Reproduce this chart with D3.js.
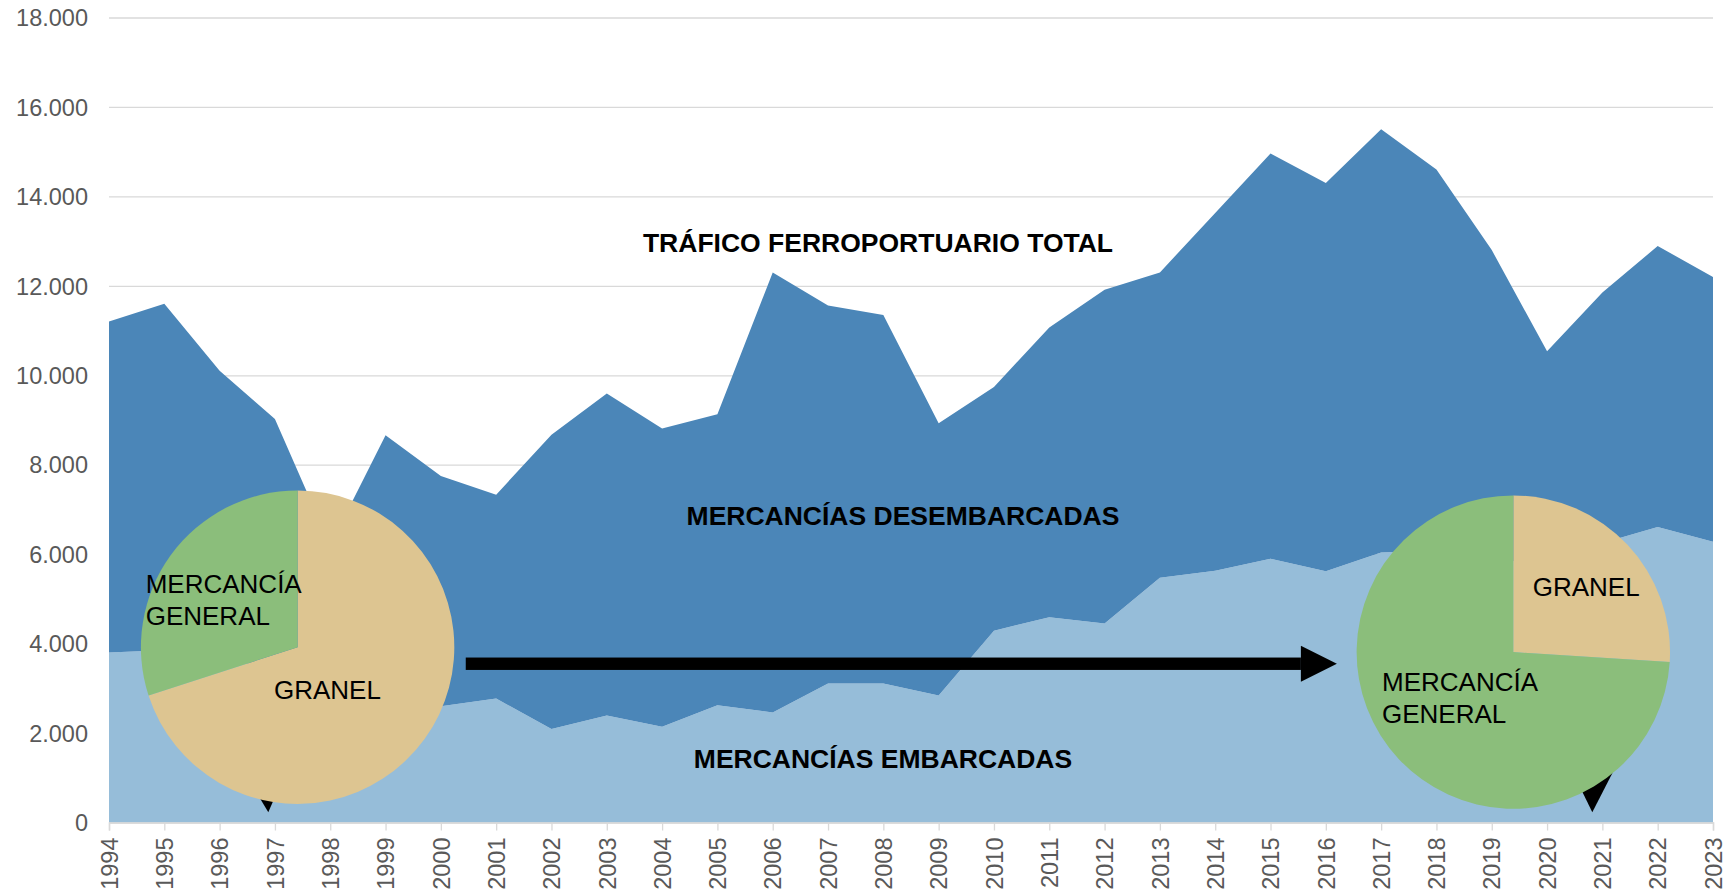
<!DOCTYPE html>
<html>
<head>
<meta charset="utf-8">
<script src="https://cdn.jsdelivr.net/npm/d3@7"></script>
<style>
  body { margin: 0; background: #fff; }
  svg { display: block; font-family: "Liberation Sans", Arial, sans-serif; }
</style>
</head>
<body>
<div id="chart"></div>
<script>
// Data (thousands of tonnes)
const years = d3.range(1994, 2024);
const embarcadas = [3800, 3850, 3700, 3400, 3100, 2800, 2600, 2770, 2090, 2390,
    2140, 2620, 2460, 3110, 3110, 2840, 4290, 4590, 4450, 5470,
    5630, 5900, 5620, 6040, 6080, 6000, 5600, 6250, 6610, 6280];
const desembarcadas = [7400, 7750, 6400, 5620, 3100, 5860, 5150, 4560, 6580, 7200,
    6670, 6510, 9840, 8450, 8240, 6090, 5450, 6480, 7460, 6830,
    8000, 9060, 8680, 9460, 8520, 6800, 4940, 5600, 6280, 5920];
const yTicks = [0, 2000, 4000, 6000, 8000, 10000, 12000, 14000, 16000, 18000];

// Pie insets: share of bulk vs general cargo, first and last year
const pieCategories = ["GRANEL", "MERCANCÍA GENERAL"];
const pieFirst = [70, 30];
const pieLast = [26, 74];

/* Dimensions */
const width = 1728, height = 892;
const margins = {top: 17.5, right: 15, bottom: 69, left: 109};

const colors = {
    embarcadas: "#96bdd9",
    desembarcadas: "#4b86b8",
    granel: "#ddc591",
    general: "#8bbe7b",
    grid: "#d9d9d9",
    tick: "#595959"
};

const svg = d3.select("#chart")
    .append("svg")
    .attr("width", width)
    .attr("height", height)
    .attr("viewBox", [0, 0, width, height]);

/* Scales */
const x = d3.scaleLinear()
    .domain([1994, 2023])
    .range([margins.left, width - margins.right]);
const y = d3.scaleLinear()
    .domain([0, 18000])
    .range([height - margins.bottom - 0.5, margins.top]);

// spanish number format: 18.000
const locale = d3.formatLocale({decimal: ",", thousands: ".", grouping: [3], currency: ["", ""]});
const fmt = locale.format(",");

/* Gridlines + y axis (behind the areas) */
const yGroup = svg.append("g")
    .attr("transform", `translate(${margins.left},0)`)
    .call(d3.axisLeft(y)
        .tickValues(yTicks)
        .tickSize(-(width - margins.right - margins.left))
        .tickPadding(21)
        .tickFormat(fmt));
yGroup.select(".domain").remove();
yGroup.selectAll("line")
    .attr("stroke", colors.grid)
    .attr("stroke-width", 1.3);
yGroup.selectAll("text")
    .attr("fill", colors.tick)
    .attr("dy", "0.35em")
    .style("font-size", "23.5px");

/* Stacked areas */
const rows = years.map((yr, i) => ({year: yr, embarcadas: embarcadas[i], desembarcadas: desembarcadas[i]}));
const series = d3.stack().keys(["embarcadas", "desembarcadas"])(rows);

const area = d3.area()
    .x(d => x(d.data.year))
    .y0(d => y(d[0]))
    .y1(d => y(d[1]));

svg.append("g")
    .selectAll("path")
    .data(series)
    .join("path")
    .attr("d", area)
    .attr("fill", d => colors[d.key]);

/* x axis */
const xGroup = svg.append("g")
    .attr("transform", `translate(0,${y(0)})`)
    .call(d3.axisBottom(x)
        .tickValues(years)
        .tickSize(8)
        .tickFormat(d => d));
xGroup.select(".domain")
    .attr("stroke", colors.grid)
    .attr("stroke-width", 1.5);
xGroup.selectAll("line")
    .attr("stroke", colors.grid)
    .attr("stroke-width", 1.3);
xGroup.selectAll("text")
    .attr("fill", colors.tick)
    .attr("text-anchor", "end")
    .attr("transform", "rotate(-90)")
    .attr("x", -15)
    .attr("y", 0)
    .attr("dy", "0.35em")
    .style("font-size", "23.5px");

/* Series labels */
const seriesLabels = [
    {text: "TRÁFICO FERROPORTUARIO TOTAL", x: 878, y: 252},
    {text: "MERCANCÍAS DESEMBARCADAS", x: 903, y: 525},
    {text: "MERCANCÍAS EMBARCADAS", x: 883, y: 768}
];
svg.append("g")
    .selectAll("text")
    .data(seriesLabels)
    .join("text")
    .attr("x", d => d.x)
    .attr("y", d => d.y)
    .attr("text-anchor", "middle")
    .style("font-size", "26.5px")
    .style("font-weight", "bold")
    .attr("fill", "#000")
    .text(d => d.text);

/* Arrow between the two pies */
const arrowY = y(3550);
const arrowX0 = x(2000.45), arrowX1 = x(2016.2);
svg.append("rect")
    .attr("x", arrowX0)
    .attr("y", arrowY - 6.2)
    .attr("width", arrowX1 - 36 - arrowX0)
    .attr("height", 12.4)
    .attr("fill", "#000");
svg.append("path")
    .attr("d", `M${arrowX1 - 36},${arrowY - 18} L${arrowX1},${arrowY} L${arrowX1 - 36},${arrowY + 18} Z`)
    .attr("fill", "#000");

// small leader arrowheads, partly hidden under the pies
svg.append("path")
    .attr("d", "M255,790 L278,790 L268.3,812.3 Z")
    .attr("fill", "#000");
svg.append("path")
    .attr("d", "M1579,785 L1615,768 L1592.3,812.3 Z")
    .attr("fill", "#000");

/* Pies */
const radius = 156.7;
const pie = d3.pie().sort(null).value(d => d);
const arc = d3.arc().innerRadius(0).outerRadius(radius);
const pieColor = d3.scaleOrdinal()
    .domain(pieCategories)
    .range([colors.granel, colors.general]);

const pies = [
    {values: pieFirst, cx: x(1997.41), cy: y(3920),
     labels: [
        {lines: ["GRANEL"], x: 274, y: 699},
        {lines: ["MERCANCÍA", "GENERAL"], x: 145.7, y: 593}
     ]},
    {values: pieLast, cx: x(2019.39), cy: y(3810),
     labels: [
        {lines: ["GRANEL"], x: 1532.7, y: 595.7},
        {lines: ["MERCANCÍA", "GENERAL"], x: 1382, y: 690.7}
     ]}
];

pies.forEach(p => {
    const g = svg.append("g")
        .attr("transform", `translate(${p.cx},${p.cy})`);
    g.selectAll("path")
        .data(pie(p.values))
        .join("path")
        .attr("d", arc)
        .attr("fill", (d, i) => pieColor(pieCategories[i]));

    const t = svg.append("g")
        .selectAll("text")
        .data(p.labels)
        .join("text")
        .attr("x", d => d.x)
        .attr("y", d => d.y)
        .attr("fill", "#000")
        .style("font-size", "26px");
    t.selectAll("tspan")
        .data(d => d.lines.map((l, i) => ({l, i, x: d.x})))
        .join("tspan")
        .attr("x", d => d.x)
        .attr("dy", d => d.i === 0 ? 0 : 32)
        .text(d => d.l);
});
</script>
</body>
</html>
